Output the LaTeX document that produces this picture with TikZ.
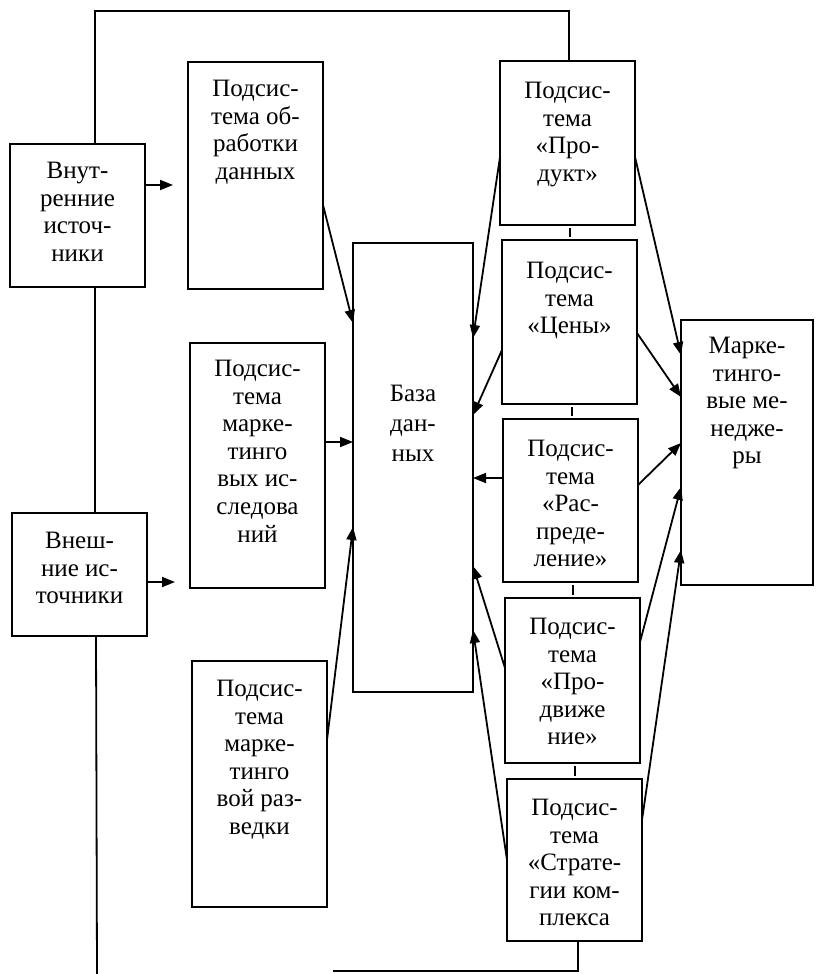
\documentclass[tikz,border=0pt]{standalone}
\usepackage{fontspec}
\setmainfont{Liberation Serif}
\usetikzlibrary{arrows.meta}
\begin{document}
\begin{tikzpicture}[x=1pt,y=-1pt,
  box/.style={draw, line width=2.2pt, anchor=north west, inner sep=0pt, outer sep=0pt},
  txt/.style={anchor=north, align=center, inner sep=0pt, font=\fontsize{25}{27.6}\selectfont},
  con/.style={line width=1.8pt},
  arr/.style={con, -{Triangle[length=13pt,width=10pt]}},
  tickln/.style={line width=1.2pt, shorten <=3pt, shorten >=3pt}]
\fill[white] (0,0) rectangle (816,974);
\useasboundingbox (0,0) rectangle (816,974);

% boxes
\node[box, minimum width=135pt, minimum height=143pt] (vnut)  at (10,144) {};
\node[box, minimum width=135pt, minimum height=227pt] (obr)   at (188,62) {};
\node[box, minimum width=135pt, minimum height=245pt] (issl)  at (190,343) {};
\node[box, minimum width=135pt, minimum height=123pt] (vnesh) at (12,513) {};
\node[box, minimum width=135pt, minimum height=246pt] (razv)  at (192,661) {};
\node[box, minimum width=120pt, minimum height=449pt] (bd)    at (353,243) {};
\node[box, minimum width=135pt, minimum height=164pt] (prod)  at (500,61) {};
\node[box, minimum width=135pt, minimum height=164pt] (cen)   at (502,240) {};
\node[box, minimum width=135pt, minimum height=163pt] (raspr) at (503,419) {};
\node[box, minimum width=135pt, minimum height=165pt] (prodv) at (505,598) {};
\node[box, minimum width=135pt, minimum height=162pt] (strat) at (507,779) {};
\node[box, minimum width=132pt, minimum height=265pt] (men)   at (681,320) {};

% texts
\node[txt] (t-vnut)  at (vnut.north |- 0,162)  {Внут-\\ренние\\источ-\\ники};
\node[txt] (t-obr)   at (obr.north |- 0,80)    {Подсис-\\тема об-\\работки\\данных};
\node[txt] (t-issl)  at (issl.north |- 0,360)  {Подсис-\\тема\\марке-\\тинго\\вых ис-\\следова\\ний};
\node[txt] (t-vnesh) at (vnesh.north |- 0,532) {Внеш-\\ние ис-\\точники};
\node[txt] (t-razv)  at (razv.north |- 0,680)  {Подсис-\\тема\\марке-\\тинго\\вой раз-\\ведки};
\node[txt, font=\fontsize{25}{30}\selectfont] (t-bd) at (bd.north |- 0,385) {База\\дан-\\ных};
\node[txt] (t-prod)  at (prod.north |- 0,82)   {Подсис-\\тема\\«Про-\\дукт»};
\node[txt] (t-cen)   at (cen.north |- 0,262)   {Подсис-\\тема\\«Цены»};
\node[txt] (t-raspr) at (raspr.north |- 0,440) {Подсис-\\тема\\«Рас-\\преде-\\ление»};
\node[txt] (t-prodv) at (prodv.north |- 0,618) {Подсис-\\тема\\«Про-\\движе\\ние»};
\node[txt] (t-strat) at (strat.north |- 0,799) {Подсис-\\тема\\«Страте-\\гии ком-\\плекса};
\node[txt] (t-men)   at (men.north |- 0,337)   {Марке-\\тинго-\\вые ме-\\недже-\\ры};

% feedback loop
\coordinate (loopTL) at (95,11);
\coordinate (loopBL) at (97,974);
\coordinate (loopBR) at (333,971);
\draw[con] (prod.north -| 569,0) |- (loopTL) -- (vnut.north -| 95,0);
\draw[con] (vnut.south -| 95,0) -- (vnesh.north -| 95,0);
\draw[con] (vnesh.south -| 96,0) -- (loopBL);
\draw[con] (strat.south -| 578,0) |- (loopBR);

% sources to subsystems
\draw[arr, shorten >=15pt] (vnut.east |- 0,185) -- (obr.west |- 0,185);
\draw[arr, shorten >=15pt] (vnesh.east |- 0,582) -- (issl.west |- 0,582);

% left subsystems to database
\draw[arr] (obr.east |- 0,205)  -- (bd.west |- 0,323);
\draw[arr] (issl.east |- 0,442) -- (bd.west |- 0,442);
\draw[arr] (razv.east |- 0,740) -- (bd.west |- 0,527);

% right subsystems to database
\draw[arr] (prod.west |- 0,157)  -- (bd.east |- 0,338);
\draw[arr] (cen.west |- 0,350)   -- (bd.east |- 0,415);
\draw[arr] (raspr.west |- 0,478) -- (bd.east |- 0,478);
\draw[arr] (prodv.west |- 0,668) -- (bd.east |- 0,566);
\draw[arr] (strat.west |- 0,860) -- (bd.east |- 0,630);

% right subsystems to managers
\draw[arr] (prod.east |- 0,157)  -- (men.west |- 0,355);
\draw[arr] (cen.east |- 0,333)   -- (men.west |- 0,397);
\draw[arr] (raspr.east |- 0,485) -- (men.west |- 0,443);
\draw[arr] (prodv.east |- 0,642) -- (men.west |- 0,487);
\draw[arr] (strat.east |- 0,820) -- (men.west |- 0,550);

% small ticks between the right subsystems
\draw[tickln] (prod.south -| 570,0)  -- (cen.north -| 570,0);
\draw[tickln] (cen.south -| 572,0)   -- (raspr.north -| 572,0);
\draw[tickln] (raspr.south -| 573,0) -- (prodv.north -| 573,0);
\draw[tickln] (prodv.south -| 575,0) -- (strat.north -| 575,0);
\end{tikzpicture}
\end{document}
